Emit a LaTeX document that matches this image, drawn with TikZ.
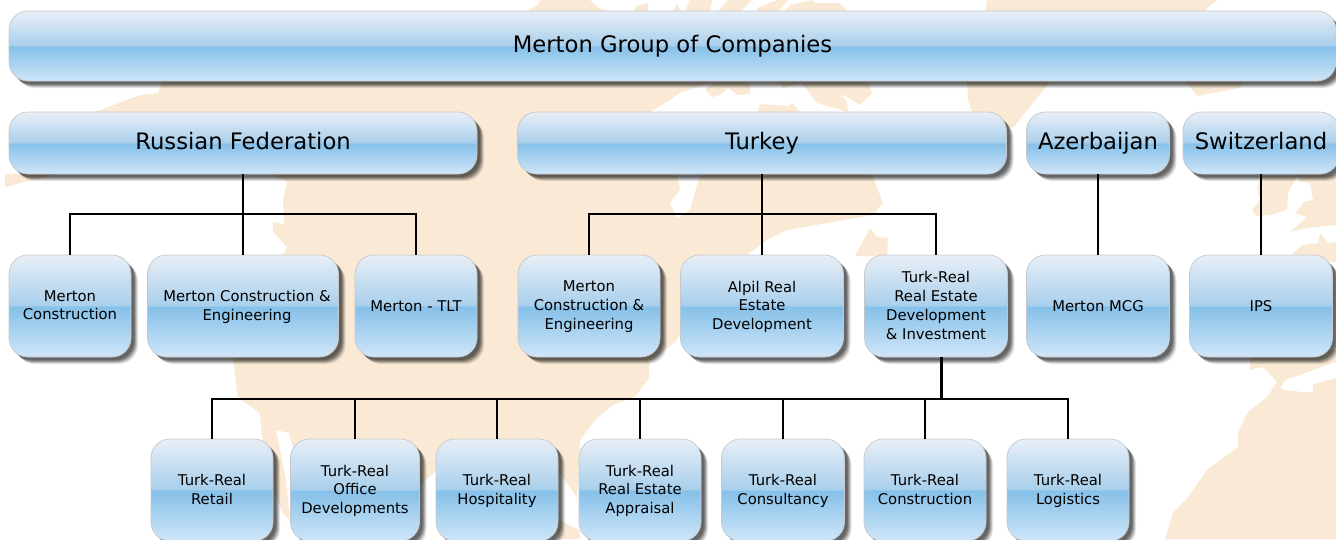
\documentclass[tikz,border=0pt]{standalone}
\usepackage{fontspec}
\setmainfont{DejaVu Sans}
\usetikzlibrary{positioning,shadows}
\definecolor{land}{RGB}{250, 234, 213}
\definecolor{glosstop}{RGB}{232, 239, 246}
\definecolor{glossup}{RGB}{169, 207, 236}
\definecolor{glossmid}{RGB}{133, 192, 233}
\definecolor{glossbot}{RGB}{208, 230, 248}
\definecolor{edge}{RGB}{196, 200, 204}
\pgfdeclareverticalshading{glossy}{100bp}{color(0bp)=(glossbot); color(25bp)=(glossbot); color(49.9bp)=(glossmid); color(50.1bp)=(glossup); color(75bp)=(glosstop); color(100bp)=(glosstop)}
\tikzset{
	landpart/.style={fill=land,draw=none},
	gappart/.style={fill=white,draw=none},
	softshadow/.style={
		general shadow={shadow xshift=7pt,shadow yshift=-7pt,fill=black,opacity=.1},
		general shadow={shadow xshift=6pt,shadow yshift=-6pt,fill=black,opacity=.14},
		general shadow={shadow xshift=5pt,shadow yshift=-5pt,fill=black,opacity=.2},
		general shadow={shadow xshift=4pt,shadow yshift=-4pt,fill=black,opacity=.2},
		general shadow={shadow xshift=3pt,shadow yshift=-3pt,fill=black,opacity=.2}},
	orgbox/.style={rectangle,rounded corners=19pt,shading=glossy,draw=edge,line width=.7pt,softshadow,inner sep=0pt},
	boxtext/.style={inner sep=0pt,align=center,execute at begin node=\strut,execute at end node=\strut},
	bigtext/.style={boxtext,yshift=-1pt,font=\fontsize{22.7}{27}\selectfont},
	smalltext/.style={boxtext,yshift=-2pt,font=\fontsize{14.8}{18.8}\selectfont},
	link/.style={draw=black,line width=2pt}
}
% #1 x, #2 y, #3 name, #4 width, #5 height, #6 text style, #7 label
\newcommand{\keybox}[7]{\node[orgbox,minimum width=#4pt,minimum height=#5pt] (#3) at (#1,#2) {};
	\node[#6] (#3text) at (#3) {#7}; }
\begin{document}
\begin{tikzpicture}[x=1pt,y=-1pt]
	\useasboundingbox (0,0) rectangle (1336,539);

	% map behind the boxes
	\fill[landpart] (95,112) -- (132,98) -- (140,95) -- (158,93) -- (162,81) -- (300,40) -- (700,40) -- (713,82) -- (703,85) -- (680,93) -- (673,98) -- (650,112) -- (800,130) -- (873,177) -- (883,203) -- (873,215) -- (787,230) -- (767,240) -- (747,255) -- (700,300) -- (677,340) -- (649,363) -- (649,378) -- (635,397) -- (613,405) -- (595,420) -- (580,440) -- (577,498) -- (560,473) -- (437,470) -- (420,485) -- (300,470) -- (289,433) -- (276,430) -- (286,480) -- (290,520) -- (283,513) -- (273,490) -- (262,437) -- (260,413) -- (238,398) -- (233,360) -- (283,255) -- (287,247) -- (273,232) -- (273,222) -- (284,224) -- (283,200) -- (287,182) -- (272,174) -- cycle;
	\fill[gappart] (677,174) -- (680,190) -- (670,203) -- (677,218) -- (690,210) -- (700,174) -- cycle;
	\fill[landpart] (5,187) -- (57,174) -- (5,174) -- cycle;
	% top edge
	\fill[landpart] (525,12) -- (538,5) -- (540,0) -- (590,0) -- (597,7) -- (610,12) -- cycle;
	\fill[landpart] (633,12) -- (637,5) -- (648,3) -- (648,12) -- cycle;
	\fill[landpart] (672,12) -- (677,4) -- (682,12) -- cycle;
	\fill[landpart] (685,12) -- (690,0) -- (712,0) -- (710,12) -- cycle;
	\fill[landpart] (717,12) -- (728,0) -- (752,0) -- (740,12) -- cycle;
	\fill[landpart] (757,8) -- (777,0) -- (788,0) -- (778,12) -- (757,12) -- cycle;
	\fill[landpart] (783,12) -- (790,5) -- (812,0) -- (815,3) -- (840,3) -- (848,12) -- cycle;
	\fill[landpart] (985,12) -- (987,0) -- (1217,0) -- (1203,12) -- cycle;
	% below the top bar
	\fill[landpart] (705,90) -- (712,97) -- (720,95) -- (728,88) -- (738,95) -- (750,94) -- (750,87) -- (744,78) -- (718,78) -- cycle;
	\fill[landpart] (777,78) -- (783,88) -- (802,83) -- (817,103) -- (848,112) -- (847,102) -- (840,93) -- (860,105) -- (872,93) -- (867,78) -- cycle;
	\fill[landpart] (757,114) -- (760,104) -- (788,106) -- (792,103) -- (802,114) -- cycle;
	\fill[landpart] (967,78) -- (968,100) -- (972,112) -- (1013,128) -- (1053,78) -- cycle;
	\fill[landpart] (1183,78) -- (1197,96) -- (1240,88) -- (1243,78) -- cycle;
	\fill[landpart] (855,256) -- (870,228) -- (877,237) -- (888,238) -- (887,256) -- cycle;
	\fill[landpart] (558,520) -- (580,530) -- (580,539) -- (558,539) -- cycle;
	% right side
	\fill[landpart] (1262,176) -- (1257,188) -- (1260,200) -- (1252,210) -- (1257,216) -- (1270,215) -- (1287,210) -- (1288,193) -- (1297,176) -- cycle;
	\fill[landpart] (1298,175) -- (1300,182) -- (1310,183) -- (1313,200) -- (1303,202) -- (1300,208) -- (1295,213) -- (1307,217) -- (1290,232) -- (1307,228) -- (1336,225) -- (1336,175) -- cycle;
	\fill[landpart] (1294,252) -- (1303,245) -- (1318,243) -- (1320,233) -- (1328,243) -- (1336,242) -- (1336,262) -- (1294,262) -- cycle;
	\fill[landpart] (1250,350) -- (1336,350) -- (1336,539) -- (1165,539) -- (1173,513) -- (1188,497) -- (1207,470) -- (1238,447) -- (1238,433) -- (1247,413) -- (1267,397) -- (1277,382) -- (1263,367) -- (1250,370) -- cycle;
	\fill[gappart] (1281,388) -- (1285,380) -- (1300,375) -- (1336,362) -- (1336,378) -- (1313,384) -- (1313,392) -- (1303,392) -- (1285,390) -- cycle;

	\keybox{672.5}{46}{group}{1327}{70}{bigtext}{Merton Group of Companies}

	\keybox{243}{143}{russia}{468}{62}{bigtext}{Russian Federation}
	\keybox{762}{143}{turkey}{489}{62}{bigtext}{Turkey}
	\keybox{1098}{143}{azerbaijan}{143}{62}{bigtext}{Azerbaijan}
	\keybox{1261}{143}{switzerland}{156}{62}{bigtext}{Switzerland}

	\keybox{70}{306}{mcons}{122}{102}{smalltext}{Merton\\Construction}
	\keybox{243}{306}{mcerus}{191}{102}{smalltext,xshift=4pt}{Merton Construction \&\\Engineering}
	\keybox{416}{306}{mtlt}{122}{102}{smalltext}{Merton - TLT}
	\keybox{589}{306}{mcetur}{142}{102}{smalltext}{Merton\\Construction \&\\Engineering}
	\keybox{762}{306}{alpil}{163}{102}{smalltext}{Alpil Real\\Estate\\Development}
	\keybox{936}{306}{turkreal}{143}{102}{smalltext}{Turk-Real\\Real Estate\\Development\\\& Investment}
	\keybox{1098}{306}{mcg}{143}{102}{smalltext}{Merton MCG}
	\keybox{1261}{306}{ips}{143}{102}{smalltext}{IPS}

	\keybox{212}{490}{retail}{122}{102}{smalltext}{Turk-Real\\Retail}
	\keybox{355}{490}{office}{129}{102}{smalltext}{Turk-Real\\Office\\Developments}
	\keybox{497}{490}{hospitality}{122}{102}{smalltext}{Turk-Real\\Hospitality}
	\keybox{640}{490}{appraisal}{122}{102}{smalltext}{Turk-Real\\Real Estate\\Appraisal}
	\keybox{783}{490}{consultancy}{123}{102}{smalltext}{Turk-Real\\Consultancy}
	\keybox{925}{490}{construction}{122}{102}{smalltext}{Turk-Real\\Construction}
	\keybox{1068}{490}{logistics}{122}{102}{smalltext}{Turk-Real\\Logistics}

	\coordinate (russiabus) at (243,214);
	\coordinate (turkeybus) at (762,214);
	\coordinate (turkrealout) at (941,357);
	\coordinate (turkrealbus) at (941,398.5);

	\draw[link] (russia.south) -- (russiabus);
	\draw[link] (russiabus) -| (mcons.north);
	\draw[link] (russiabus) -- (mcerus.north);
	\draw[link] (russiabus) -| (mtlt.north);

	\draw[link] (turkey.south) -- (turkeybus);
	\draw[link] (turkeybus) -| (mcetur.north);
	\draw[link] (turkeybus) -- (alpil.north);
	\draw[link] (turkeybus) -| (turkreal.north);

	\draw[link] (azerbaijan.south) -- (mcg.north);
	\draw[link] (switzerland.south) -- (ips.north);

	\draw[link,line width=3pt] (turkrealout) -- (turkrealbus);
	\draw[link] (turkrealbus) -| (retail.north);
	\draw[link] (turkrealbus) -| (office.north);
	\draw[link] (turkrealbus) -| (hospitality.north);
	\draw[link] (turkrealbus) -| (appraisal.north);
	\draw[link] (turkrealbus) -| (consultancy.north);
	\draw[link] (turkrealbus) -| (construction.north);
	\draw[link] (turkrealbus) -| (logistics.north);
\end{tikzpicture}
\end{document}
